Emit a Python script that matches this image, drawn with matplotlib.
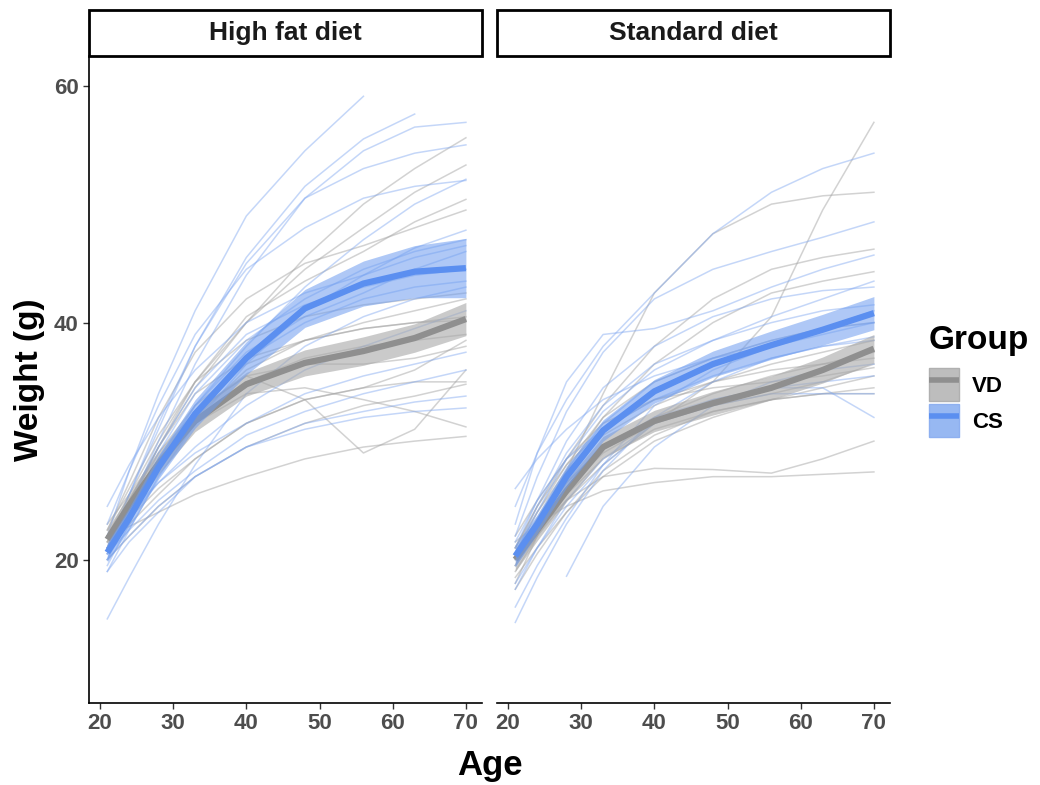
import matplotlib
matplotlib.use("Agg")
import matplotlib.pyplot as plt
import numpy as np
from matplotlib.patches import Rectangle, Patch
from matplotlib.lines import Line2D

plt.rcParams['font.family'] = ['Liberation Sans', 'DejaVu Sans']
plt.rcParams['font.weight'] = 'bold'

nan = np.nan
ages = [21, 24, 28, 33, 40, 48, 56, 63, 70]

# individual mice, high fat diet
hfd_cs = [
    [22.0, 27.5, 34.0, 41.0, 49.0, 54.5, 59.1, nan, nan],
    [21.0, 25.5, 31.5, 38.0, 45.5, 51.5, 55.5, 57.6, nan],
    [20.0, 24.5, 30.0, 36.5, 44.0, 50.5, 54.5, 56.5, 56.9],
    [21.0, 25.5, 31.0, 38.0, 45.0, 50.5, 53.0, 54.3, 55.0],
    [20.5, 24.0, 28.5, 33.0, 38.0, 43.0, 47.0, 50.0, 52.1],
    [19.0, 22.5, 27.0, 31.5, 36.5, 41.0, 44.0, 46.3, 47.8],
    [20.5, 24.0, 29.0, 34.0, 38.5, 42.0, 44.5, 46.0, 47.0],
    [21.0, 24.5, 29.5, 34.5, 39.0, 41.5, 43.0, 44.0, 44.5],
    [20.0, 23.5, 28.0, 32.5, 37.0, 40.0, 42.0, 43.0, 43.5],
    [19.5, 23.0, 28.0, 33.0, 37.5, 40.5, 42.5, 44.5, 46.0],
    [21.0, 23.5, 26.5, 29.5, 33.0, 36.0, 38.0, 39.5, 41.0],
    [22.0, 24.0, 26.5, 29.0, 31.5, 34.0, 35.5, 36.5, 37.5],
    [20.5, 22.5, 25.0, 27.5, 30.5, 32.5, 34.0, 35.0, 36.0],
    [19.0, 21.5, 24.0, 27.0, 29.5, 31.5, 32.5, 33.3, 33.8],
    [20.0, 22.0, 24.5, 27.0, 29.5, 31.0, 32.0, 32.5, 32.8],
    [15.0, 18.5, 23.0, 28.0, 34.0, 38.0, 40.5, 42.0, 43.0],
    [24.5, 28.0, 32.0, 36.0, 40.0, 42.5, 44.0, 45.5, 46.5],
    [23.0, 27.5, 33.0, 39.0, 44.5, 48.0, 50.5, 51.5, 52.0],
]
hfd_vd = [
    [21.5, 25.0, 29.5, 34.5, 40.0, 45.5, 50.0, 53.0, 55.6],
    [22.0, 25.5, 30.0, 35.0, 40.0, 44.5, 48.0, 51.0, 53.3],
    [21.0, 24.5, 29.5, 35.0, 40.5, 43.5, 46.0, 48.5, 50.4],
    [22.5, 26.5, 32.0, 37.5, 42.0, 45.0, 46.5, 48.0, 49.5],
    [21.0, 24.0, 28.0, 32.0, 36.0, 38.5, 40.0, 41.0, 42.0],
    [22.0, 25.0, 29.0, 33.0, 36.5, 38.5, 39.5, 40.0, 40.5],
    [20.5, 23.5, 27.5, 31.5, 35.0, 37.0, 38.0, 38.5, 39.0],
    [23.0, 25.5, 29.0, 32.5, 35.5, 36.5, 36.5, 37.0, 38.0],
    [21.0, 24.0, 28.5, 32.5, 35.5, 33.5, 29.0, 31.0, 36.0],
    [22.0, 22.8, 24.0, 25.5, 27.0, 28.5, 29.5, 30.0, 30.4],
    [20.0, 22.0, 24.5, 27.0, 29.5, 31.5, 33.0, 33.8, 34.8],
    [21.5, 23.5, 26.0, 28.5, 31.5, 33.5, 34.5, 35.0, 35.0],
    [21.0, 24.0, 28.0, 31.5, 34.0, 34.5, 33.5, 32.5, 31.2],
    [21.0, 23.0, 25.5, 28.5, 31.5, 33.5, 34.5, 36.0, 38.5],
    [22.5, 26.0, 30.5, 35.0, 38.5, 40.5, 41.5, 42.0, 42.5],
    [21.5, 25.0, 29.5, 34.0, 37.0, 38.5, 39.5, 40.0, 40.2],
]

# individual mice, standard diet
sd_cs = [
    [24.5, 29.0, 33.5, 38.0, 42.5, 47.5, 51.0, 53.0, 54.3],
    [22.0, 27.0, 32.5, 37.5, 42.0, 44.5, 46.0, 47.2, 48.5],
    [23.0, 29.0, 35.0, 39.0, 39.5, 41.0, 43.0, 44.5, 45.7],
    [21.0, 25.0, 30.0, 34.5, 38.0, 40.5, 42.0, 42.7, 43.0],
    [20.5, 24.5, 29.0, 33.0, 36.5, 38.5, 40.0, 41.0, 41.5],
    [19.5, 23.0, 27.5, 31.5, 35.0, 37.0, 38.5, 39.5, 40.0],
    [14.7, 18.5, 23.0, 27.5, 32.0, 35.0, 37.0, 38.0, 38.5],
    [nan, nan, 18.6, 24.5, 29.5, 33.0, 35.0, 36.0, 36.5],
    [18.0, 21.0, 24.5, 28.0, 31.5, 33.5, 34.5, 35.0, 35.5],
    [20.0, 23.0, 26.5, 29.5, 32.0, 33.5, 34.5, 34.5, 32.0],
    [26.0, 28.5, 31.0, 33.5, 35.5, 37.0, 38.0, 39.0, 40.0],
    [21.5, 25.0, 28.5, 31.0, 33.5, 35.5, 37.0, 38.0, 38.8],
    [17.5, 21.0, 25.0, 28.5, 31.5, 33.0, 34.0, 34.0, 34.0],
    [20.5, 24.0, 28.5, 32.5, 36.0, 38.5, 40.5, 42.0, 43.5],
    [16.0, 19.5, 23.5, 28.0, 33.0, 36.0, 38.0, 39.5, 41.0],
]
sd_vd = [
    [19.5, 22.0, 25.0, 28.0, 31.5, 35.0, 40.5, 49.5, 56.9],
    [18.0, 22.0, 27.5, 34.0, 42.5, 47.5, 50.0, 50.7, 51.0],
    [21.0, 24.5, 28.5, 33.0, 38.0, 42.0, 44.5, 45.5, 46.2],
    [20.5, 23.5, 27.5, 32.0, 36.5, 40.0, 42.5, 43.5, 44.3],
    [21.5, 23.0, 24.5, 25.8, 26.5, 27.0, 27.0, 27.2, 27.4],
    [20.0, 22.5, 25.0, 27.0, 27.7, 27.6, 27.3, 28.5, 30.0],
    [20.0, 23.0, 26.5, 29.5, 32.0, 34.0, 35.5, 36.5, 37.5],
    [21.0, 24.0, 27.5, 30.5, 33.0, 35.0, 36.5, 37.5, 38.5],
    [19.0, 22.0, 25.5, 28.5, 31.0, 32.5, 33.5, 34.0, 34.5],
    [22.0, 25.0, 28.5, 31.5, 33.5, 35.0, 36.0, 36.5, 37.0],
    [18.5, 21.0, 24.0, 27.0, 30.0, 32.0, 33.5, 34.5, 35.5],
    [20.5, 24.0, 28.0, 32.0, 35.0, 37.0, 38.5, 39.5, 40.0],
    [17.5, 20.5, 24.0, 27.5, 30.5, 32.5, 33.5, 34.0, 34.0],
    [21.0, 24.5, 28.0, 31.0, 33.5, 34.5, 35.0, 35.5, 36.2],
    [19.5, 22.5, 26.0, 29.0, 31.5, 33.0, 34.0, 35.0, 36.5],
]

# group means with confidence band
hfd_cs_mean = [20.6, 23.5, 27.8, 32.3, 37.0, 41.2, 43.3, 44.3, 44.6]
hfd_cs_lo = [19.8, 22.6, 26.8, 31.1, 35.6, 39.6, 41.4, 42.1, 42.1]
hfd_cs_hi = [21.4, 24.4, 28.8, 33.5, 38.4, 42.8, 45.2, 46.5, 47.1]
hfd_vd_mean = [21.7, 24.6, 28.1, 31.7, 34.8, 36.6, 37.6, 38.7, 40.3]
hfd_vd_lo = [20.8, 23.7, 27.2, 30.8, 33.8, 35.5, 36.4, 37.5, 38.9]
hfd_vd_hi = [22.6, 25.5, 29.0, 32.6, 35.8, 37.7, 38.8, 39.9, 41.7]
sd_cs_mean = [20.3, 23.0, 27.0, 30.9, 34.2, 36.5, 38.1, 39.4, 40.8]
sd_cs_lo = [19.4, 22.2, 26.1, 30.0, 33.2, 35.4, 36.9, 38.1, 39.4]
sd_cs_hi = [21.2, 23.8, 27.9, 31.8, 35.2, 37.6, 39.3, 40.7, 42.2]
sd_vd_mean = [20.0, 22.5, 25.8, 29.5, 31.7, 33.2, 34.5, 36.0, 37.8]
sd_vd_lo = [19.0, 21.6, 24.9, 28.6, 30.8, 32.2, 33.5, 34.9, 36.6]
sd_vd_hi = [21.0, 23.4, 26.7, 30.4, 32.6, 34.2, 35.5, 37.1, 39.0]

panels = ["High fat diet", "Standard diet"]
groups = ["VD", "CS"]

blue = "#5b8ff0"
grey = "#8f8f8f"

fig = plt.figure(figsize=(10.4, 7.85), dpi=100)
W, H = 1040, 785
ax1 = fig.add_axes([89 / W, 1 - 703 / H, 393 / W, 647 / H])
ax2 = fig.add_axes([497 / W, 1 - 703 / H, 393 / W, 647 / H], sharey=ax1)

data = [
    (ax1, hfd_vd, hfd_cs, (hfd_vd_mean, hfd_vd_lo, hfd_vd_hi), (hfd_cs_mean, hfd_cs_lo, hfd_cs_hi)),
    (ax2, sd_vd, sd_cs, (sd_vd_mean, sd_vd_lo, sd_vd_hi), (sd_cs_mean, sd_cs_lo, sd_cs_hi)),
]

for i, (ax, vd, cs, vdm, csm) in enumerate(data):
    for row in vd:
        ax.plot(ages, row, color="#a6a6a6", lw=1.1, alpha=0.5, zorder=1)
    for row in cs:
        ax.plot(ages, row, color="#7ea6f0", lw=1.1, alpha=0.45, zorder=1)
    ax.fill_between(ages, vdm[1], vdm[2], color="#a8a8a8", alpha=0.6, lw=0, zorder=2)
    ax.plot(ages, vdm[0], color=grey, lw=4.5, solid_capstyle="butt", zorder=3)
    ax.fill_between(ages, csm[1], csm[2], color="#6d9cf0", alpha=0.55, lw=0, zorder=4)
    ax.plot(ages, csm[0], color=blue, lw=4.5, solid_capstyle="butt", zorder=5)

    ax.set_xlim(18.5, 72.2)
    ax.set_ylim(7.9, 62.5)
    ax.set_xticks([20, 30, 40, 50, 60, 70])
    ax.set_yticks([20, 40, 60])
    for s in ["top", "right"]:
        ax.spines[s].set_visible(False)
    ax.spines["bottom"].set_linewidth(1.2)
    ax.spines["left"].set_linewidth(1.2)
    ax.tick_params(length=4, width=1, color="#333333", labelcolor="#4d4d4d", labelsize=16)

    # facet strip
    ax.add_patch(Rectangle((0, 1), 1, 46 / 647, transform=ax.transAxes,
                           facecolor="white", edgecolor="black", lw=2, clip_on=False))
    ax.text(0.5, 1 + 23 / 647, panels[i], transform=ax.transAxes,
            ha="center", va="center", fontsize=19, fontweight="bold", color="#1a1a1a")

ax2.spines["left"].set_visible(False)
ax2.tick_params(axis="y", left=False, labelleft=False)

fig.text(30 / W, 1 - 380 / H, "Weight (g)", rotation=90, ha="center", va="center",
         fontsize=24, fontweight="bold")
fig.text(490 / W, 1 - 765 / H, "Age", ha="center", va="center",
         fontsize=25, fontweight="bold")

handles = [
    (Patch(facecolor="#bdbdbd", edgecolor="#b0b0b0"),
     Line2D([], [], color=grey, lw=4, solid_capstyle="butt")),
    (Patch(facecolor="#97b8f2", edgecolor="#8eb0f0"),
     Line2D([], [], color=blue, lw=4, solid_capstyle="butt")),
]
leg = fig.legend(handles, groups, title="Group", loc="upper left",
                 bbox_to_anchor=(909 / W, 1 - 305 / H), frameon=False,
                 fontsize=16, handlelength=1.35, handleheight=1.9,
                 labelspacing=0.12, handletextpad=0.6, alignment="left",
                 title_fontproperties={"size": 24, "weight": "bold"})
leg._legend_box.sep = 9

fig.savefig("out.png", dpi=100)
